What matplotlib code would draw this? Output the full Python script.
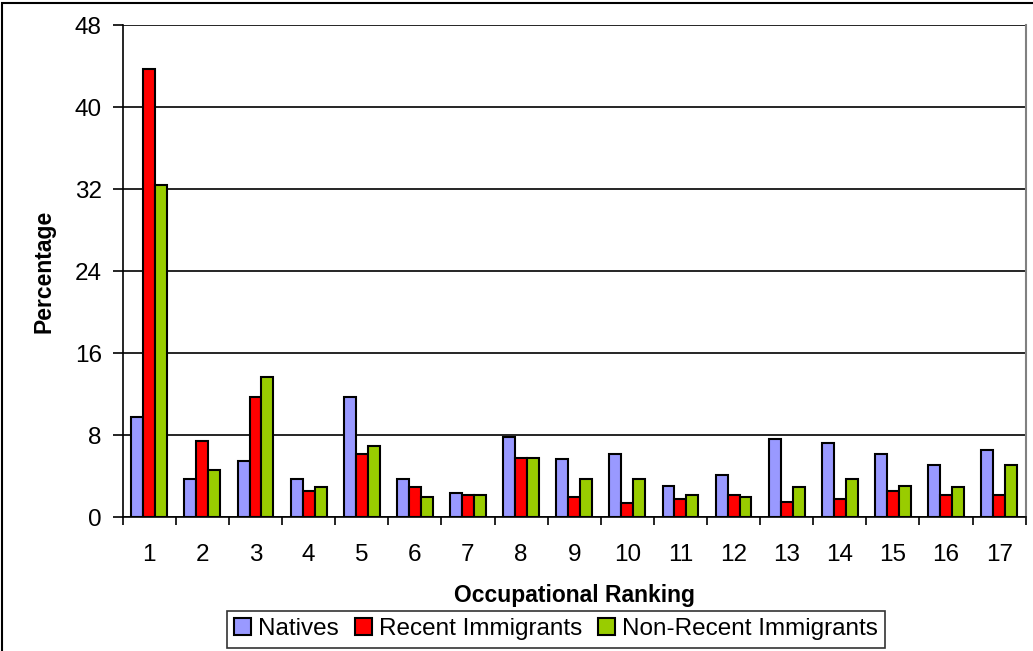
import matplotlib
matplotlib.use("Agg")
import matplotlib.pyplot as plt
import numpy as np
from matplotlib.patches import Rectangle

categories = [str(i) for i in range(1, 18)]
natives = [9.8, 3.7, 5.5, 3.7, 11.7, 3.7, 2.35, 7.8, 5.7, 6.2, 3.1, 4.1, 7.6, 7.2, 6.2, 5.1, 6.6]
recent = [43.7, 7.4, 11.7, 2.6, 6.2, 2.95, 2.15, 5.8, 1.95, 1.4, 1.75, 2.15, 1.5, 1.75, 2.55, 2.15, 2.15]
nonrecent = [32.4, 4.65, 13.7, 2.95, 7.0, 1.95, 2.15, 5.8, 3.7, 3.7, 2.15, 1.95, 2.95, 3.7, 3.1, 2.95, 5.1]
series_names = ["Natives", "Recent Immigrants", "Non-Recent Immigrants"]
yticks = [0, 8, 16, 24, 32, 40, 48]

colors = ["#9999FF", "#FF0000", "#99CC00"]

plt.rcParams['font.family'] = ['Liberation Sans', 'DejaVu Sans']

fig = plt.figure(figsize=(10.33, 6.51), dpi=100)
W, H = 1033, 651
ax = fig.add_axes([122.7 / W, 1 - 517.3 / H, (1025.7 - 122.7) / W, (517.3 - 25.3) / H])

x = np.arange(len(categories))
bw = 0.225
for i, (vals, c, name) in enumerate(zip([natives, recent, nonrecent], colors, series_names)):
    ax.bar(x + (i - 1) * bw, vals, width=bw, color=c, edgecolor="black",
           linewidth=1.5, label=name, zorder=3)

ax.set_xlim(-0.5, len(categories) - 0.5)
ax.set_ylim(0, 48)
ax.set_yticks(yticks)
ax.set_yticklabels([str(t) for t in yticks])
ax.yaxis.grid(True, color="black", linewidth=1.2, zorder=0)
ax.set_axisbelow(True)

ax.set_xticks(np.arange(-0.5, len(categories), 1.0))
ax.set_xticklabels([])
ax.set_xticks(x, minor=True)
ax.set_xticklabels(categories, minor=True)
ax.tick_params(axis="x", which="major", direction="out", length=6, width=1.2, color="black")
ax.tick_params(axis="x", which="minor", length=0, pad=19, labelsize=17.5)
ax.tick_params(axis="y", direction="out", length=7, width=1.2, pad=8, labelsize=17.5)

ax.spines["top"].set_visible(False)
ax.spines["right"].set_color("#808080")
ax.spines["right"].set_linewidth(1.5)
ax.spines["left"].set_linewidth(1.2)
ax.spines["bottom"].set_linewidth(1.2)

ax.set_xlabel("Occupational Ranking", fontsize=16.5, fontweight="bold", labelpad=13)
ax.set_ylabel("Percentage", fontsize=16.5, fontweight="bold", labelpad=14)

leg = fig.legend(loc="upper center", bbox_to_anchor=(556 / W, 1 - 611 / H), ncol=3,
                 fontsize=17.5, frameon=True, fancybox=False, edgecolor="black",
                 handlelength=0.7, handleheight=0.7, handletextpad=0.3,
                 columnspacing=0.65, borderpad=0.3, borderaxespad=0)
leg.get_frame().set_linewidth(1.2)

fig.patches.append(Rectangle((2 / W, -0.1), 1.2, 1.1 - 3 / H, transform=fig.transFigure,
                             fill=False, edgecolor="black", linewidth=1.5))

fig.savefig("out.png", dpi=100)
